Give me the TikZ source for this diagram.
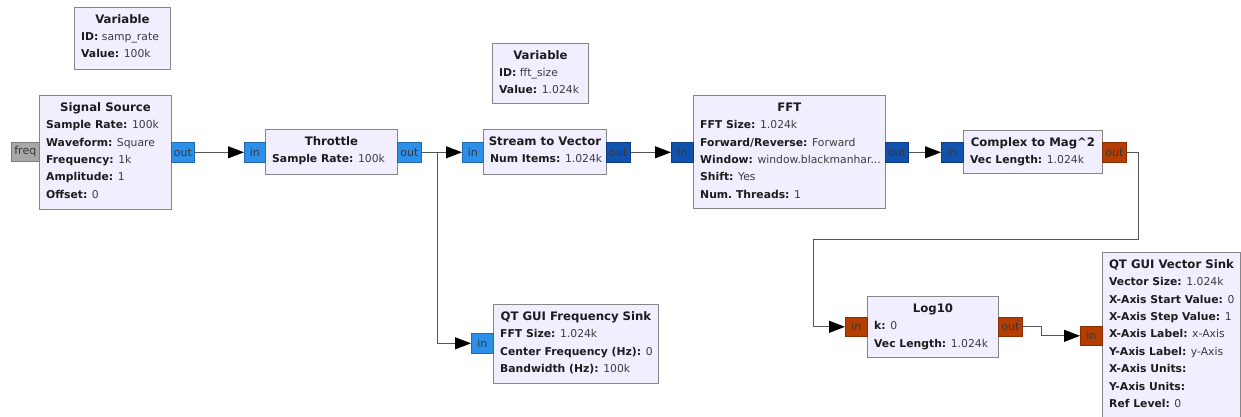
\documentclass[tikz,border=0pt]{standalone}
\usepackage{fontspec}
\setmainfont{DejaVu Sans}
\usetikzlibrary{arrows.meta,calc}

\definecolor{blkfill}{HTML}{F1EEFF}
\definecolor{blkdraw}{HTML}{868686}
\definecolor{keyc}{HTML}{1C1C1C}
\definecolor{valc}{HTML}{3C3C3C}
\definecolor{cplx}{HTML}{2C8FE8}
\definecolor{cvec}{HTML}{1052AE}
\definecolor{fvec}{HTML}{B43E02}
\definecolor{msgp}{HTML}{A8A8A8}
\definecolor{wirec}{HTML}{555555}

\tikzset{
  blk/.style={draw=blkdraw, fill=blkfill, line width=0.9pt, inner sep=0pt, anchor=north west},
  btitle/.style={anchor=base, inner sep=0pt, text=keyc, font=\fontsize{11.7}{13}\selectfont\bfseries},
  bparams/.style={anchor=north west, inner sep=0pt, align=left, text=keyc, font=\fontsize{10.8}{17.4}\selectfont},
  port/.style={draw=#1!75!black, fill=#1, line width=0.6pt, inner sep=0pt, anchor=north west},
  portlbl/.style={inner sep=0pt, text=black!78, font=\fontsize{11}{12}\selectfont},
  wire/.style={draw=wirec, line width=1pt, -{Triangle[length=16pt,width=12pt,color=black]}},
}

% block outline with a centred bold title and left-aligned parameter lines;
% the parameter text starts with a 10pt strut so its top lies 10pt above the first baseline
\newcommand\grcblk[7]{%
  \node[blk, minimum width={(#4)-(#2)}, minimum height={(#5)-(#3)}] (#1) at (#2,#3) {};
  \node[btitle] (#1-t) at ($(#1.north)+(0,16.2)$) {#6};
  \node[bparams] (#1-p) at ($(#1.north west)+(7,23.4)$) {\rule{0pt}{10pt}#7};
}
\newcommand\kv[2]{\textbf{#1:} \textcolor{valc}{#2}}
\newcommand\grcport[6]{% name, x, y, w, h, colour
  \node[port=#6, minimum width=#4, minimum height=#5] (#1) at (#2,#3) {};
}

\begin{document}
\begin{tikzpicture}[x=1pt, y=-1pt]
\useasboundingbox[fill=white] (0,0) rectangle (1241,417);

% ---- blocks ----
\grcblk{var1}{74}{7}{170}{69}{Variable}{\kv{ID}{samp\_rate}\\\kv{Value}{100k}}
\grcblk{ss}{39}{95}{171}{209}{Signal Source}{\kv{Sample Rate}{100k}\\\kv{Waveform}{Square}\\\kv{Frequency}{1k}\\\kv{Amplitude}{1}\\\kv{Offset}{0}}
\grcblk{thr}{265}{129}{397}{174}{Throttle}{\kv{Sample Rate}{100k}}
\grcblk{var2}{492}{43}{588}{103}{Variable}{\kv{ID}{fft\_size}\\\kv{Value}{1.024k}}
\grcblk{stv}{483}{129}{606}{174}{Stream to Vector}{\kv{Num Items}{1.024k}}
\grcblk{fft}{693}{95}{885}{208}{FFT}{\kv{FFT Size}{1.024k}\\\kv{Forward/Reverse}{Forward}\\\kv{Window}{window.blackmanhar...}\\\kv{Shift}{Yes}\\\kv{Num.\ Threads}{1}}
\grcblk{cm}{963}{130}{1102}{173}{Complex to Mag\textasciicircum 2}{\kv{Vec Length}{1.024k}}
\grcblk{fs}{493}{304}{658}{383}{QT GUI Frequency Sink}{\kv{FFT Size}{1.024k}\\\kv{Center Frequency (Hz)}{0}\\\kv{Bandwidth (Hz)}{100k}}
\grcblk{lg}{867}{296}{998}{357}{Log10}{\kv{k}{0}\\\kv{Vec Length}{1.024k}}
\grcblk{vs}{1102}{252}{1240}{440}{QT GUI Vector Sink}{\kv{Vector Size}{1.024k}\\\kv{X-Axis Start Value}{0}\\\kv{X-Axis Step Value}{1}\\\kv{X-Axis Label}{x-Axis}\\\kv{Y-Axis Label}{y-Axis}\\\kv{X-Axis Units}{}\\\kv{Y-Axis Units}{}\\\kv{Ref Level}{0}}

% ---- ports ----
\grcport{ss-freq}{11}{142}{28}{19}{msgp}
\grcport{ss-out}{171}{142}{23}{20}{cplx}
\grcport{thr-in}{244}{142}{21}{20}{cplx}
\grcport{thr-out}{397}{142}{24}{20}{cplx}
\grcport{stv-in}{462}{142}{21}{20}{cplx}
\grcport{stv-out}{606}{142}{24}{20}{cvec}
\grcport{fft-in}{671}{142}{22}{20}{cvec}
\grcport{fft-out}{885}{142}{23}{20}{cvec}
\grcport{cm-in}{941}{142}{22}{20}{cvec}
\grcport{cm-out}{1102}{142}{24}{20}{fvec}
\grcport{fs-in}{471}{333}{22}{20}{cplx}
\grcport{lg-in}{845}{317}{22}{19}{fvec}
\grcport{lg-out}{998}{317}{24}{19}{fvec}
\grcport{vs-in}{1080}{326}{22}{19}{fvec}

% port labels
\foreach \p/\t in {ss-freq/freq, ss-out/out, thr-in/in, thr-out/out, stv-in/in, stv-out/out,
  fft-in/in, fft-out/out, cm-in/in, cm-out/out, fs-in/in, lg-in/in, lg-out/out, vs-in/in}
  \node[portlbl] (\p-lbl) at (\p.center) {\t};

% ---- connections ----
\coordinate (loop) at (813,239);
\draw[wire] (ss-out.east) -- (thr-in.west);
\draw[wire] (thr-out.east) -- (stv-in.west);
\draw[wire] (thr-out.east) -- ++(16,0) |- (fs-in.west);
\draw[wire] (stv-out.east) -- (fft-in.west);
\draw[wire] (fft-out.east) -- (cm-in.west);
\draw[wire] (cm-out.east) -- ++(12,0) |- (loop) |- (lg-in.west);
\draw[wire] (lg-out.east) -- ++(19,0) |- (vs-in.west);
\end{tikzpicture}
\end{document}
